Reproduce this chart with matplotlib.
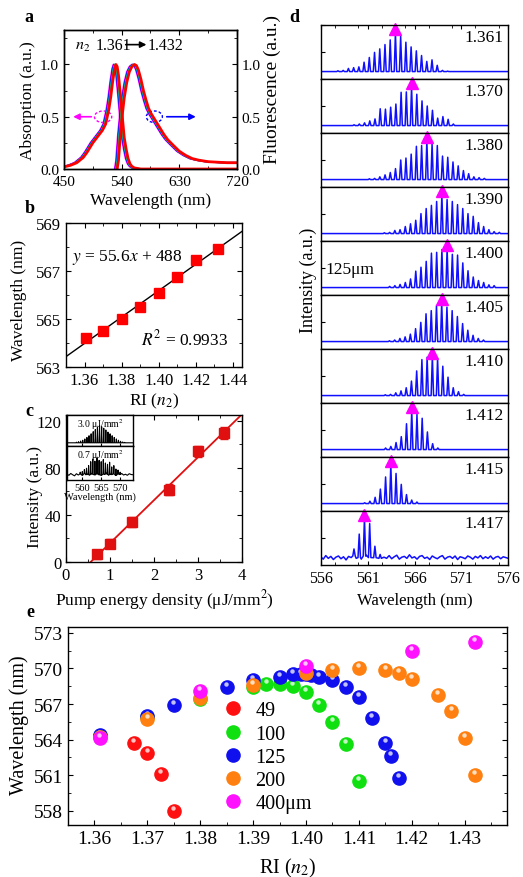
import numpy as np
import matplotlib.pyplot as plt
from matplotlib.patches import Ellipse
from matplotlib.lines import Line2D
from matplotlib.ticker import MultipleLocator
from matplotlib.transforms import offset_copy

plt.rcParams['font.family'] = ['Liberation Serif', 'DejaVu Serif']
plt.rcParams['mathtext.fontset'] = 'stix'
plt.rcParams['xtick.direction'] = 'in'
plt.rcParams['ytick.direction'] = 'in'
plt.rcParams['axes.linewidth'] = 1.0

W, H = 523, 878

# ---------------- data ----------------
# a: absorption / fluorescence of the dye (red = n2 1.432), other RIs slightly blue-shifted
abs_wl = [450, 460, 470, 480, 486, 490, 495, 500, 505, 510, 515, 520, 523, 526, 529, 531,
          533, 535, 538, 541, 544, 547, 550, 553, 556, 560, 570, 720]
abs_val = [0.02, 0.035, 0.06, 0.11, 0.16, 0.2, 0.25, 0.29, 0.33, 0.37, 0.43, 0.57, 0.69, 0.84,
           0.96, 1.0, 0.98, 0.9, 0.71, 0.5, 0.3, 0.19, 0.1, 0.05, 0.025, 0.01, 0.0, 0.0]
fl_wl = [533, 535, 538, 541, 544, 548, 552, 556, 560, 563, 566, 570, 574, 578, 582, 586, 590,
         595, 600, 606, 612, 620, 630, 640, 650, 660, 675, 690, 705, 720]
fl_val = [0.0, 0.08, 0.33, 0.52, 0.68, 0.83, 0.93, 0.98, 1.0, 0.99, 0.95, 0.86, 0.75, 0.66, 0.58,
          0.53, 0.49, 0.44, 0.39, 0.33, 0.28, 0.23, 0.17, 0.13, 0.1, 0.085, 0.07, 0.065, 0.06, 0.06]
a_colors = ['#ff00ff', '#0000ff', '#00c0c0', '#00b000', '#ff0000']
a_shifts = [-4, -3, -2, -1, 0]

# b: peak wavelength vs RI
ri_b = [1.361, 1.370, 1.380, 1.390, 1.400, 1.410, 1.420, 1.432]
wl_b = [564.2, 564.5, 565.0, 565.5, 566.1, 566.75, 567.45, 567.9]

# c: lasing intensity vs pump energy density
pump = [0.7, 1.0, 1.5, 2.35, 3.0, 3.6]
inten = [6.5, 15.5, 34.0, 61.5, 94.0, 109.5]
inten_err = [4, 4, 4, 4.5, 5, 5]

# c inset spectra
FSR = 0.557
ins_hi_start = 558.5
ins_hi = [0.03, 0.05, 0.08, 0.12, 0.18, 0.25, 0.33, 0.42, 0.52, 0.62, 0.72, 0.8, 0.75, 0.68,
          0.6, 0.5, 0.42, 0.33, 0.25, 0.18, 0.12, 0.07, 0.04, 0.02]
ins_lo_start = 559.5
ins_lo = [0.3, 0.32, 0.4, 0.45, 0.55, 0.7, 0.8, 0.72, 0.85, 0.75, 0.7, 0.78, 0.65, 0.6, 0.68,
          0.5, 0.55, 0.42, 0.38, 0.3]
ins_lo_base = [0.22, 0.18, 0.25, 0.2, 0.16, 0.24, 0.19, 0.23, 0.17, 0.26, 0.2, 0.22, 0.18, 0.25,
               0.21, 0.19, 0.24, 0.2, 0.17, 0.23, 0.21, 0.26, 0.18, 0.22, 0.2, 0.24, 0.17, 0.23,
               0.2, 0.25, 0.19, 0.22, 0.18, 0.24, 0.21, 0.2]

# d: lasing spectra (125 um fiber), peak heights of successive modes
d_ri = ['1.361', '1.370', '1.380', '1.390', '1.400', '1.405', '1.410', '1.412', '1.415', '1.417']
d_start = [557.84, 559.56, 561.19, 562.79, 563.35, 563.33, 562.89, 562.92, 560.69, 559.55]
d_heights = [
    [0.02, 0.03, 0.08, 0.1, 0.12, 0.24, 0.36, 0.49, 0.58, 0.69, 0.81, 1.0, 0.9, 0.75, 0.63,
     0.53, 0.41, 0.26, 0.3, 0.16, 0.03, 0.01],
    [0.02, 0.04, 0.07, 0.12, 0.17, 0.43, 0.42, 0.47, 0.55, 0.85, 0.86, 1.0, 0.8, 0.63, 0.5,
     0.39, 0.19, 0.23, 0.16, 0.04],
    [0.02, 0.03, 0.07, 0.12, 0.18, 0.28, 0.5, 0.55, 0.65, 0.85, 0.87, 1.0, 0.92, 0.87, 0.6,
     0.57, 0.45, 0.35, 0.23, 0.15, 0.07, 0.05, 0.03],
    [0.02, 0.03, 0.08, 0.1, 0.18, 0.25, 0.34, 0.51, 0.64, 0.72, 0.82, 1.0, 0.87, 0.82, 0.74,
     0.64, 0.51, 0.44, 0.28, 0.18, 0.1, 0.05, 0.03],
    [0.03, 0.05, 0.08, 0.13, 0.22, 0.42, 0.52, 0.67, 0.88, 0.9, 0.97, 1.0, 0.85, 0.83, 0.63,
     0.43, 0.27, 0.18, 0.13, 0.07, 0.05],
    [0.02, 0.04, 0.08, 0.12, 0.19, 0.33, 0.49, 0.71, 0.79, 0.92, 1.0, 0.88, 0.79, 0.64, 0.46,
     0.29, 0.16, 0.08, 0.04],
    [0.02, 0.03, 0.07, 0.12, 0.2, 0.37, 0.63, 0.92, 0.98, 1.0, 0.95, 0.75, 0.47, 0.2, 0.1, 0.03],
    [0.04, 0.08, 0.18, 0.33, 0.66, 1.0, 0.9, 0.8, 0.45, 0.15, 0.04],
    [0.02, 0.06, 0.16, 0.37, 0.68, 1.0, 0.77, 0.49, 0.23, 0.09, 0.04],
    [0.22, 0.6, 1.0, 0.87, 0.29, 0.08],
]
noise_1417 = [0.02, -0.04, 0.05, -0.02, 0.03, -0.05, 0.01, 0.04, -0.03, 0.02, -0.06, 0.03, 0.0,
              0.05, -0.02, 0.01, -0.04, 0.03, 0.06, -0.01, 0.02, -0.03, 0.04, -0.05, 0.02, 0.01,
              -0.02, 0.05, -0.03, 0.02, 0.06, -0.04, 0.01, 0.03, -0.02, 0.07, -0.01, 0.02, -0.04,
              0.03, 0.05, -0.02, 0.01, -0.05, 0.04, 0.0, -0.03, 0.02, 0.05, -0.04, 0.01, 0.03,
              -0.02, 0.04, -0.05, 0.02, 0.0, -0.03, 0.04, 0.01, -0.04, 0.03, -0.01, 0.05, -0.03,
              0.02, -0.02, 0.04, -0.04, 0.01, 0.03, -0.03, 0.02, 0.0, -0.02]

# e: lasing wavelength vs RI for several fiber diameters
ri_49 = [1.3675, 1.370, 1.3725, 1.375]
wl_49 = [563.7, 562.9, 561.1, 558.0]
ri_100 = [1.361, 1.370, 1.380, 1.390, 1.3925, 1.395, 1.3975, 1.400, 1.4025, 1.405, 1.4075, 1.410]
wl_100 = [564.3, 565.9, 567.4, 568.4, 568.7, 568.7, 568.5, 568.0, 566.9, 565.5, 563.6, 560.5]
ri_125 = [1.361, 1.370, 1.375, 1.385, 1.390, 1.395, 1.3975, 1.399, 1.400, 1.401, 1.4025, 1.405,
          1.4075, 1.410, 1.4125, 1.415, 1.416, 1.4175]
wl_125 = [564.4, 566.0, 566.9, 568.4, 569.0, 569.3, 569.5, 569.5, 569.5, 569.45, 569.3, 569.0,
          568.4, 567.6, 565.8, 563.7, 562.6, 560.8]
ri_200 = [1.361, 1.370, 1.380, 1.390, 1.400, 1.405, 1.410, 1.415, 1.4175, 1.420, 1.425, 1.4275,
          1.430, 1.432]
wl_200 = [564.2, 565.7, 567.5, 568.6, 569.6, 569.9, 570.0, 569.9, 569.6, 569.1, 567.8, 566.4,
          564.1, 561.0]
ri_400 = [1.361, 1.380, 1.400, 1.420, 1.432]
wl_400 = [564.1, 568.1, 570.2, 571.5, 572.2]
e_labels = ['49', '100', '125', '200', '400\u03bcm']
e_colors = ['#ff1010', '#10e010', '#1010ee', '#ff8010', '#ff10ff']


def frac(l, t, r, b):
    return [l / W, 1 - b / H, (r - l) / W, (b - t) / H]


def comb(start, heights, w, grid_x=(556, 576), base=(0, 0)):
    centers = start + FSR * np.arange(len(heights))
    pts = [(x, y) for x, y in zip(grid_x, base) if np.all(np.abs(centers - x) > 1.5 * w)]
    for c, h in zip(centers, heights):
        b = np.interp(c, grid_x, base)
        pts += [(c - w, b), (c, h), (c + w, b)]
    pts.sort()
    xs, ys = zip(*pts)
    return xs, ys, centers


fig = plt.figure(figsize=(W / 100, H / 100), dpi=100)

# ---------------- a ----------------
ax = fig.add_axes(frac(64, 31, 237, 170))
for col, sh in zip(a_colors, a_shifts):
    lw = 2.0 if col == '#ff0000' else 1.2
    ax.plot(np.array(abs_wl) + sh, abs_val, color=col, lw=lw)
    ax.plot(np.array(fl_wl) + sh, fl_val, color=col, lw=lw)
ax.set_xlim(450, 720)
ax.set_ylim(0, 1.33)
ax.set_xticks([450, 540, 630, 720])
ax.xaxis.set_minor_locator(MultipleLocator(45))
ax.set_yticks([0, 0.5, 1.0])
ax.set_yticklabels(['0.0', '0.5', '1.0'])
ax.yaxis.set_minor_locator(MultipleLocator(0.25))
ax.tick_params(labelsize=11, top=True, which='both')
ax.tick_params(axis='x', pad=4.5)
ax.set_xlabel('Wavelength (nm)', fontsize=12.5)
ax.xaxis.set_label_coords(0.5, -0.165)
ax.set_ylabel('Absorption (a.u.)', fontsize=12.5)
ax.yaxis.set_label_coords(-0.162, 0.5)
ax.add_patch(Ellipse((511, 0.5), 27, 0.11, fill=False, ls=(0, (2, 1.5)), ec='#ff00ff', lw=1))
ax.add_patch(Ellipse((591, 0.5), 25, 0.11, fill=False, ls=(0, (2, 1.5)), ec='#0000ff', lw=1))
ax.annotate('', xy=(460, 0.5), xytext=(497, 0.5),
            arrowprops=dict(arrowstyle='-|>', color='#ff00ff', lw=1.2, mutation_scale=9))
ax.annotate('', xy=(660, 0.5), xytext=(606, 0.5),
            arrowprops=dict(arrowstyle='-|>', color='#0000ff', lw=1.2, mutation_scale=9))
ax.text(467, 1.19, '$n_2$', fontsize=11.5, va='center')
ax.text(500, 1.19, '1.361', fontsize=11.5, va='center')
ax.annotate('', xy=(583, 1.19), xytext=(542, 1.19),
            arrowprops=dict(arrowstyle='-|>', color='black', lw=1.2, mutation_scale=9))
ax.text(581, 1.19, '1.432', fontsize=11.5, va='center')
ax2 = ax.twinx()
ax2.set_ylim(0, 1.33)
ax2.set_yticks([0, 0.5, 1.0])
ax2.set_yticklabels(['0.0', '0.5', '1.0'])
ax2.yaxis.set_minor_locator(MultipleLocator(0.25))
ax2.tick_params(labelsize=11, direction='in', which='both')
fig.text(272 / W, 1 - 90 / H, 'Fluorescence (a.u.)', rotation=90, fontsize=14,
         ha='center', va='center')

# ---------------- b ----------------
ax = fig.add_axes(frac(66, 224, 242, 368))
k, b0 = np.polyfit(ri_b, wl_b, 1)
xl = np.array([1.35, 1.445])
ax.plot(xl, k * xl + b0, color='black', lw=1)
ax.plot(ri_b, wl_b, 's', color='#ff0000', ms=6.5)
ax.set_xlim(1.35, 1.445)
ax.set_ylim(563, 569)
ax.set_xticks([1.36, 1.38, 1.40, 1.42, 1.44])
ax.set_xticklabels(['1.36', '1.38', '1.40', '1.42', '1.44'])
ax.xaxis.set_minor_locator(MultipleLocator(0.01))
ax.set_yticks([563, 565, 567, 569])
ax.yaxis.set_minor_locator(MultipleLocator(1))
ax.tick_params(labelsize=12, top=True, right=True, which='both')
ax.set_xlabel('RI ($n_2$)', fontsize=12.5)
ax.xaxis.set_label_coords(0.5, -0.167)
ax.set_ylabel('Wavelength (nm)', fontsize=12.5)
ax.yaxis.set_label_coords(-0.22, 0.47)
ax.text(1.3535, 567.62, '$y$ = 55.6$x$ + 488', fontsize=12.5, va='center')
ax.text(1.3905, 564.2, '$R^2$ = 0.9933', fontsize=12.5, va='center')

# ---------------- c ----------------
ax = fig.add_axes(frac(66, 416, 242, 563))
k, b0 = np.polyfit(pump, inten, 1)
xl = np.array([-b0 / k, 4.0])
ax.plot(xl, k * xl + b0, color='#e01010', lw=1.3)
ax.errorbar(pump, inten, yerr=inten_err, fmt='s', color='#e01010', ms=6.5,
            ecolor='#e01010', elinewidth=1, capsize=3)
ax.set_xlim(0, 4)
ax.set_ylim(0, 125)
ax.set_xticks([0, 1, 2, 3, 4])
ax.xaxis.set_minor_locator(MultipleLocator(0.5))
ax.set_yticks([0, 40, 80, 120])
ax.yaxis.set_minor_locator(MultipleLocator(20))
ax.tick_params(labelsize=12, top=True, right=True, which='both')
ax.set_xlabel('Pump energy density (\u03bcJ/mm$^2$)', fontsize=12.5)
ax.xaxis.set_label_coords(0.56, -0.17)
ax.set_ylabel('Intensity (a.u.)', fontsize=12.5)
ax.yaxis.set_label_coords(-0.13, 0.45)

# inset
ia = fig.add_axes(frac(67, 416, 133, 447))
xs, ys, _ = comb(ins_hi_start, ins_hi, 0.1)
ia.plot(xs, ys, color='black', lw=0.8)
ia.set_xlim(556, 573.5)
ia.set_ylim(-0.15, 1.3)
ia.set_xticks([560, 565, 570])
ia.set_yticks([])
ia.tick_params(labelbottom=False, length=2)
ia.text(0.5, 0.97, '3.0 \u03bcJ/mm$^2$', transform=ia.transAxes, ha='center', va='top',
        fontsize=7)
ib = fig.add_axes(frac(67, 447, 133, 481))
gx = 556 + 0.5 * np.arange(len(ins_lo_base))
xs, ys, _ = comb(ins_lo_start, ins_lo, 0.1, gx, ins_lo_base)
ib.plot(xs, ys, color='black', lw=0.8)
ib.set_xlim(556, 573.5)
ib.set_ylim(0, 1.3)
ib.set_xticks([560, 565, 570])
ib.set_yticks([])
ib.tick_params(labelsize=7.5, length=2, pad=2)
ib.set_xlabel('Wavelength (nm)', fontsize=7.5, labelpad=0)
ib.text(0.5, 0.97, '0.7 \u03bcJ/mm$^2$', transform=ib.transAxes, ha='center', va='top',
        fontsize=7)

# ---------------- d ----------------
row_h = 54
for i, (ri, st, hts) in enumerate(zip(d_ri, d_start, d_heights)):
    t = 26 + i * row_h
    ax = fig.add_axes(frac(320.7, t, 508.3, t + row_h))
    if ri == '1.417':
        gx = np.linspace(556, 576, len(noise_1417))
        xs, ys, cen = comb(st, hts, 0.13, gx, noise_1417)
    else:
        xs, ys, cen = comb(st, hts, 0.13)
    ax.plot(xs, ys, color='#1010ff', lw=1.1)
    ax.plot(cen[int(np.argmax(hts))], 1.1, '^', color='#ff00ff', ms=8, clip_on=False)
    ax.set_xlim(556, 576)
    ax.set_ylim(-0.19, 1.19)
    ax.set_yticks([0.5, 1.19])
    ax.tick_params(labelleft=False, length=3)
    ax.text(0.975, 0.77, ri, transform=ax.transAxes, ha='right', va='center', fontsize=12.5)
    ax.set_xticks([556, 561, 566, 571, 576])
    ax.xaxis.set_minor_locator(MultipleLocator(2.5))
    if i == 0:
        ax.tick_params(top=True, bottom=False, labelbottom=False, which='both')
    elif i < len(d_ri) - 1:
        ax.tick_params(bottom=False, labelbottom=False, which='both')
    else:
        ax.tick_params(labelsize=11.5, which='both')
        ax.set_xlabel('Wavelength (nm)', fontsize=12)
        ax.xaxis.set_label_coords(0.5, -0.5)
    if ri == '1.400':
        ax.text(0.025, 0.49, '125\u03bcm', transform=ax.transAxes, ha='left', va='center',
                fontsize=12.5)
fig.text(308 / W, 1 - 280 / H, 'Intensity (a.u.)', rotation=90, fontsize=13,
         ha='center', va='center')

# ---------------- e ----------------
ax = fig.add_axes(frac(68, 628, 507, 826))
hl = offset_copy(ax.transData, fig=fig, x=-0.6, y=2.2, units='points')
series = [(ri_49, wl_49), (ri_100, wl_100), (ri_125, wl_125), (ri_200, wl_200), (ri_400, wl_400)]
for (xv, yv), col in zip(series, e_colors):
    ax.plot(xv, yv, 'o', color=col, mec=col, ms=9.5, ls='none')
    ax.plot(xv, yv, 'o', color='white', mec='none', alpha=0.75, ms=3.2, ls='none', transform=hl)
ax.set_xlim(1.355, 1.438)
ax.set_ylim(556.8, 573.5)
ax.set_xticks([1.36, 1.37, 1.38, 1.39, 1.40, 1.41, 1.42, 1.43])
ax.set_xticklabels(['1.36', '1.37', '1.38', '1.39', '1.40', '1.41', '1.42', '1.43'])
ax.xaxis.set_minor_locator(MultipleLocator(0.005))
ax.set_yticks([558, 561, 564, 567, 570, 573])
ax.yaxis.set_minor_locator(MultipleLocator(1.5))
ax.tick_params(labelsize=14, right=True, which='both')
ax.set_xlabel('RI ($n_2$)', fontsize=14.5)
ax.xaxis.set_label_coords(0.5, -0.155)
ax.set_ylabel('Wavelength (nm)', fontsize=14.5)
ax.yaxis.set_label_coords(-0.089, 0.51)
handles = [Line2D([], [], marker='o', ls='none', color=c, mec=c, ms=9.5) for c in e_colors]
ax.legend(handles, e_labels, loc='upper left', bbox_to_anchor=(0.335, 0.665), frameon=False,
          fontsize=14.5, labelspacing=0.2, handletextpad=0.6, handlelength=1.0,
          borderaxespad=0)

# panel letters
for lab, x, y in [('a', 24, 22), ('b', 25, 213), ('c', 25, 416), ('d', 289, 22), ('e', 26, 617)]:
    fig.text(x / W, 1 - y / H, lab, fontsize=13, fontweight='bold', ha='left', va='baseline')

fig.savefig('out.png', dpi=100)
